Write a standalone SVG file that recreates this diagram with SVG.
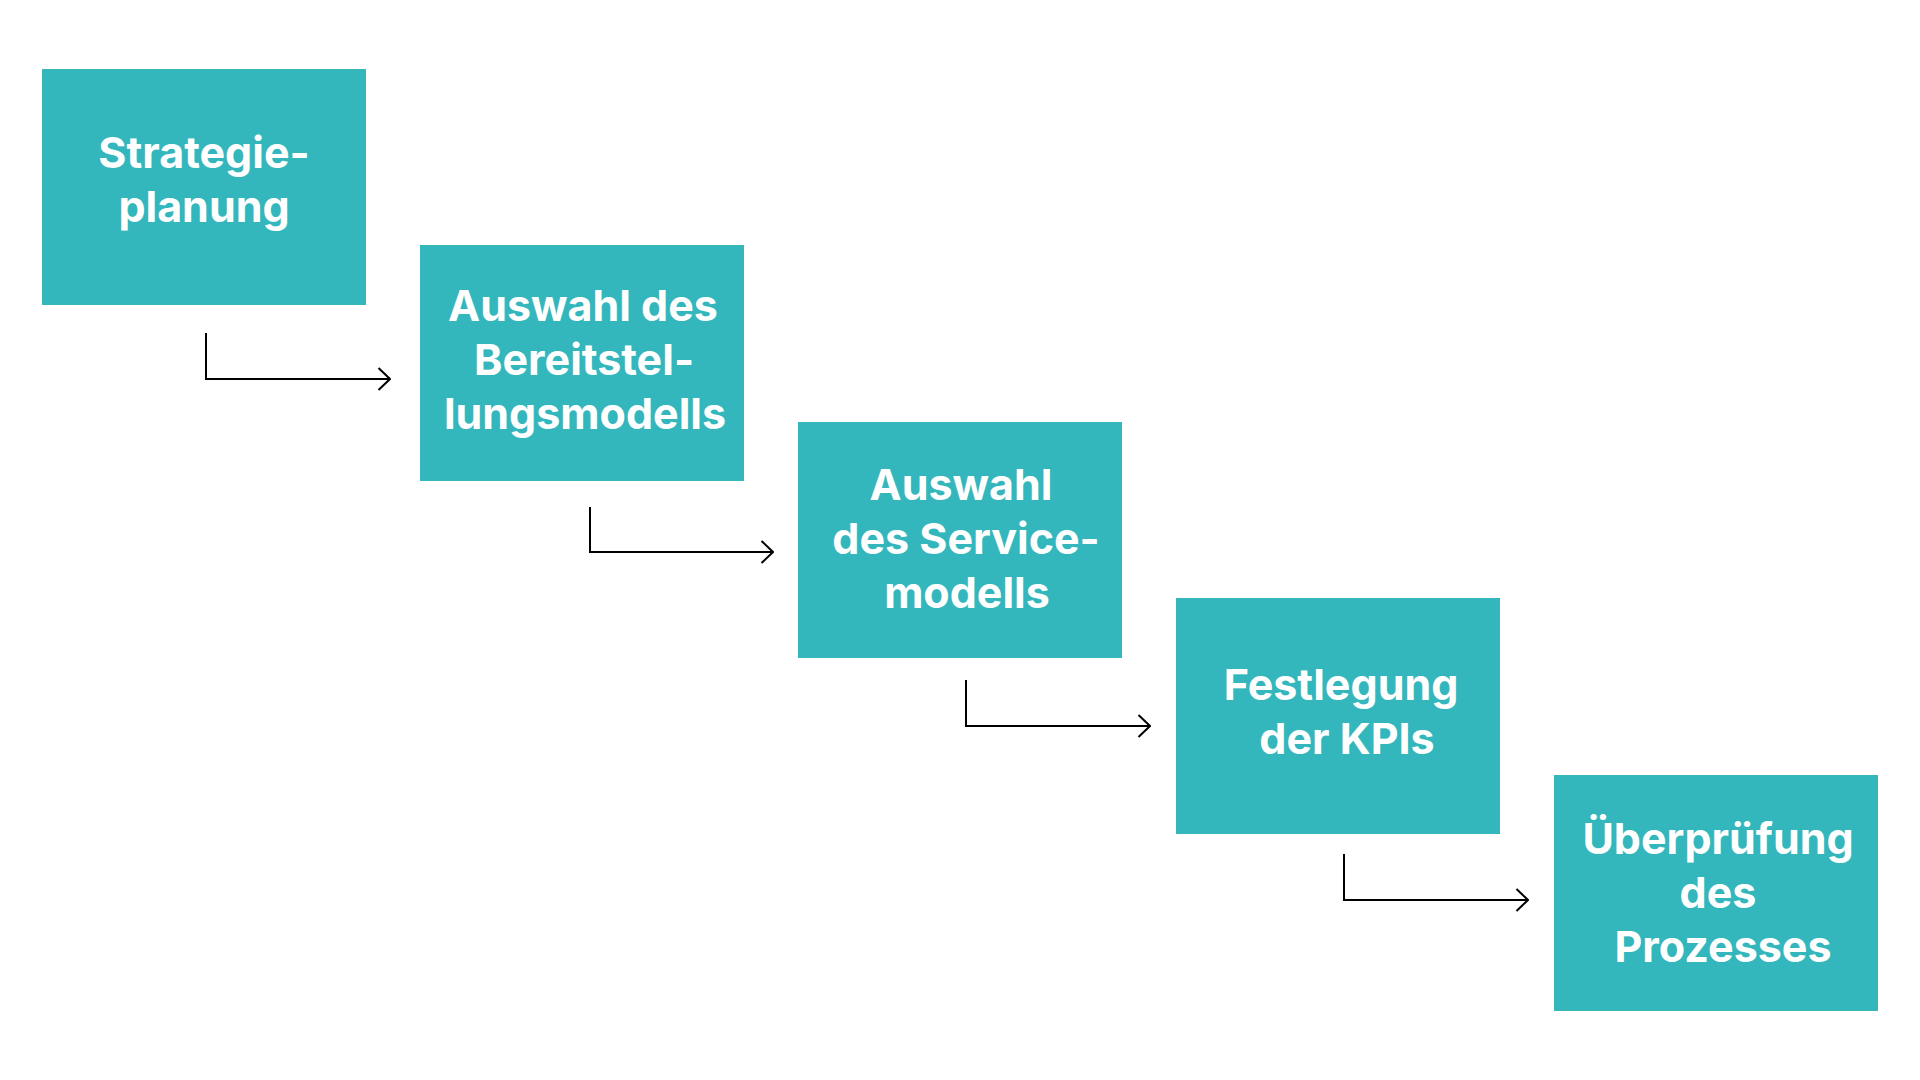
<svg xmlns="http://www.w3.org/2000/svg" width="1920" height="1080" viewBox="0 0 1920 1080">
<defs>
<style>
.box{fill:#33B7BC;}
.lbl{font-family:Inter,"Noto Sans","Liberation Sans",sans-serif;font-weight:700;font-size:43px;fill:#FFFFFF;text-anchor:middle;}
.conn{fill:none;stroke:#000000;stroke-width:2;}
</style>
<marker id="chev" viewBox="0 0 14 24" refX="13" refY="12" markerWidth="14" markerHeight="24" markerUnits="userSpaceOnUse" orient="auto">
<path d="M1.5,1 L13,12 L1.5,23" fill="none" stroke="#000000" stroke-width="2"/>
</marker>
</defs>
<rect width="1920" height="1080" fill="#FFFFFF"/>
<g id="node1">
<rect class="box" x="42" y="69" width="324" height="236"/>
<text class="lbl" x="204" y="168">Strategie-</text>
<text class="lbl" x="204" y="222">planung</text>
</g>
<g id="node2">
<rect class="box" x="420" y="245" width="324" height="236"/>
<text class="lbl" x="583" y="321">Auswahl des</text>
<text class="lbl" x="584" y="375">Bereitstel-</text>
<text class="lbl" x="585" y="429">lungsmodells</text>
</g>
<g id="node3">
<rect class="box" x="798" y="422" width="324" height="236"/>
<text class="lbl" x="961" y="500">Auswahl</text>
<text class="lbl" x="966" y="554">des Service-</text>
<text class="lbl" x="967" y="608">modells</text>
</g>
<g id="node4">
<rect class="box" x="1176" y="598" width="324" height="236"/>
<text class="lbl" x="1341" y="700">Festlegung</text>
<text class="lbl" x="1347" y="754">der KPIs</text>
</g>
<g id="node5">
<rect class="box" x="1554" y="775" width="324" height="236"/>
<text class="lbl" x="1718" y="854">Überprüfung</text>
<text class="lbl" x="1718" y="908">des</text>
<text class="lbl" x="1723" y="962">Prozesses</text>
</g>
<g id="connectors">
<path class="conn" d="M206,333 V379 H390" marker-end="url(#chev)"/>
<path class="conn" d="M590,507 V552 H773" marker-end="url(#chev)"/>
<path class="conn" d="M966,680 V726 H1150" marker-end="url(#chev)"/>
<path class="conn" d="M1344,854 V900 H1528" marker-end="url(#chev)"/>
</g>
</svg>
